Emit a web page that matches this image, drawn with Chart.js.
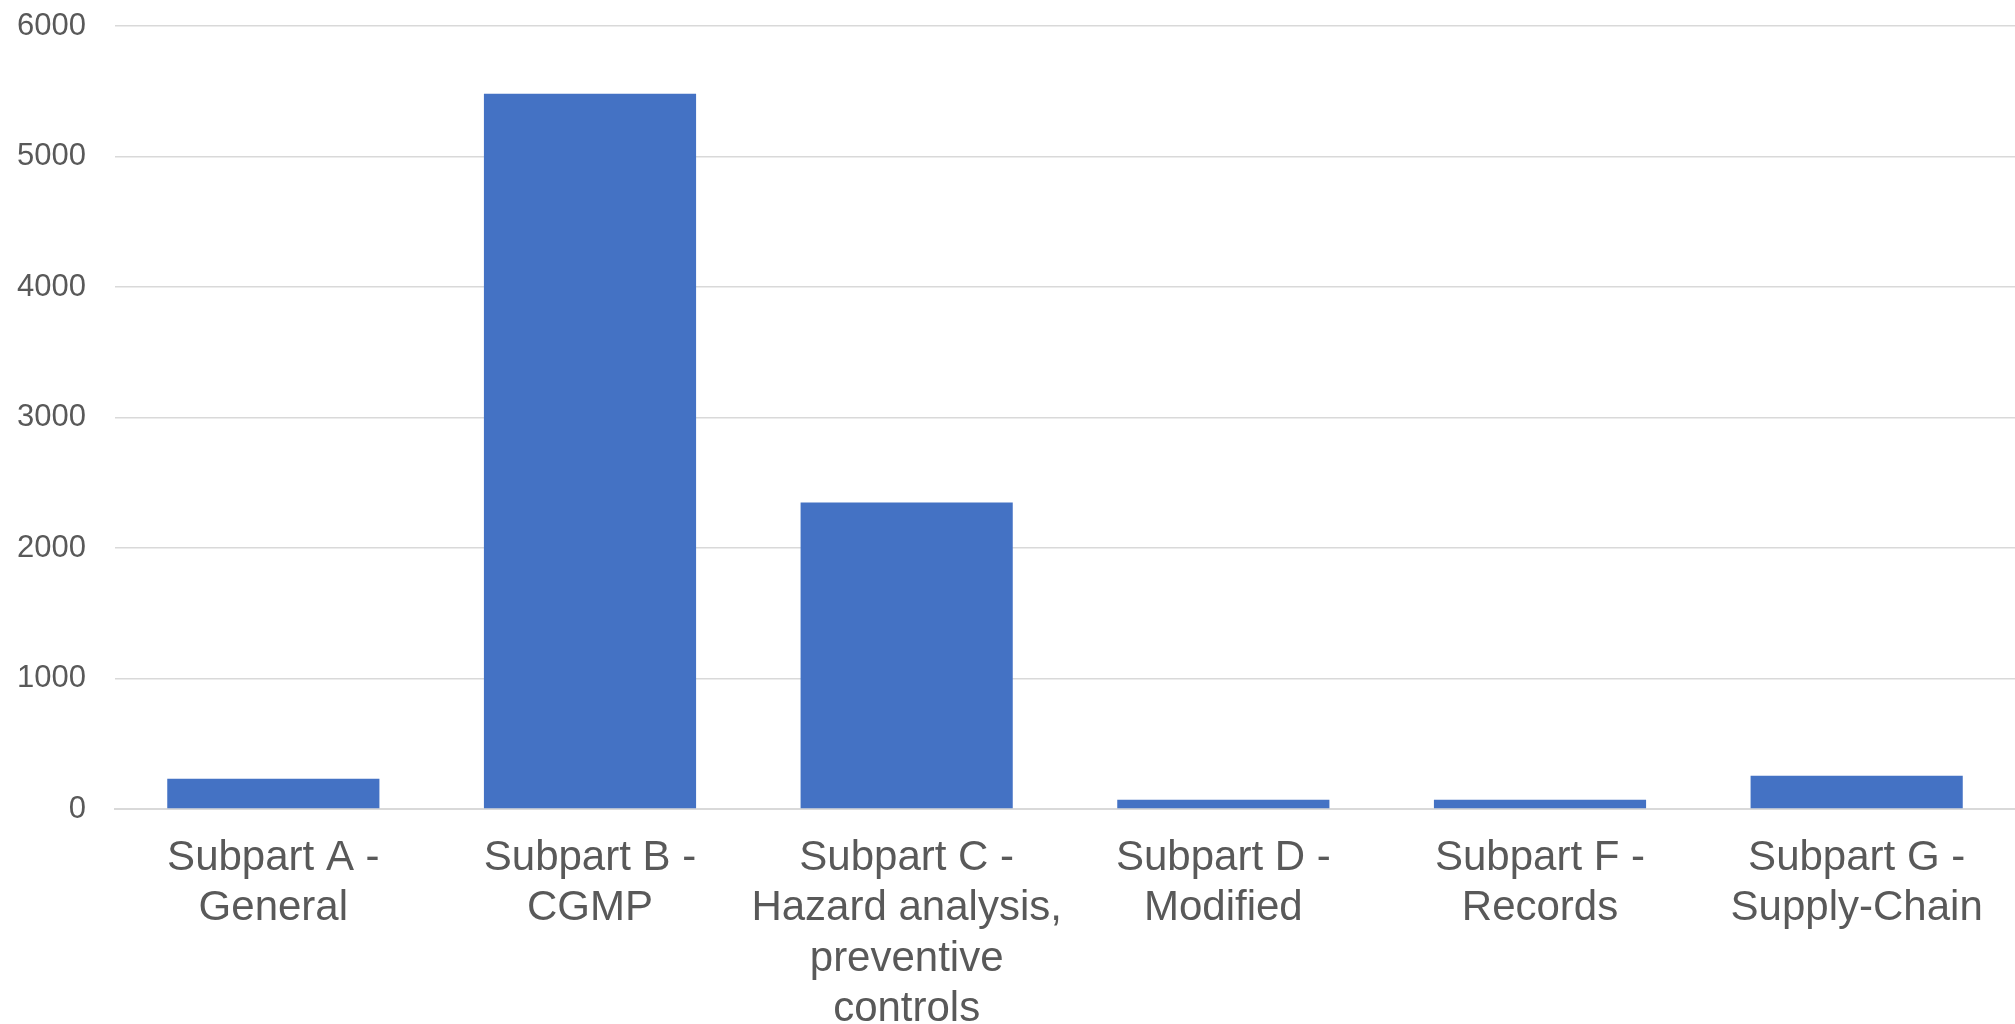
<!DOCTYPE html>
<html>
<head>
<meta charset="utf-8">
<script src="https://cdn.jsdelivr.net/npm/chart.js@4.4.0/dist/chart.umd.min.js"></script>
<style>
  body { margin: 0; background: #fff; }
  canvas { display: block; }
</style>
</head>
<body>
<canvas id="chart" width="2015" height="1024"></canvas>
<script>
const labels = [
  ['Subpart A -', 'General'],
  ['Subpart B -', 'CGMP'],
  ['Subpart C -', 'Hazard analysis,', 'preventive', 'controls'],
  ['Subpart D -', 'Modified'],
  ['Subpart F -', 'Records'],
  ['Subpart G -', 'Supply-Chain']
];
const values = [232, 5480, 2348, 71, 71, 255];
const yTicks = [0, 1000, 2000, 3000, 4000, 5000, 6000];

const ctx = document.getElementById('chart');
new Chart(ctx, {
  type: 'bar',
  data: {
    labels: labels,
    datasets: [{
      data: values,
      backgroundColor: '#4472C4',
      borderWidth: 0,
      barPercentage: 0.67,
      categoryPercentage: 1
    }]
  },
  options: {
    responsive: false,
    animation: false,
    layout: { padding: { left: 0, right: 0, top: 26, bottom: 0 } },
    plugins: {
      legend: { display: false },
      tooltip: { enabled: false }
    },
    scales: {
      x: {
        afterFit: function(scale) {
          // keep the zero line where the reference has it
          scale.height = 215;
          scale.paddingLeft = 0;
          scale.paddingRight = 0;
        },
        grid: { display: false },
        border: { color: '#d9d9d9', width: 2 },
        ticks: {
          color: '#595959',
          font: { family: 'Liberation Sans, Arial, sans-serif', size: 42, lineHeight: 1.2 },
          maxRotation: 0,
          autoSkip: false,
          padding: 16
        }
      },
      y: {
        min: 0,
        max: 6000,
        afterBuildTicks: function(scale) {
          scale.ticks = yTicks.map(v => ({ value: v }));
        },
        afterFit: function(scale) {
          scale.width = 115;
          scale.paddingTop = 0;
          scale.paddingBottom = 0;
        },
        grid: { color: '#d9d9d9', lineWidth: 1.5, drawTicks: false },
        border: { display: false },
        ticks: {
          color: '#595959',
          font: { family: 'Liberation Sans, Arial, sans-serif', size: 31 },
          padding: 29,
          callback: function(value) {
            return String(value);
          }
        }
      }
    }
  }
});
</script>
</body>
</html>
